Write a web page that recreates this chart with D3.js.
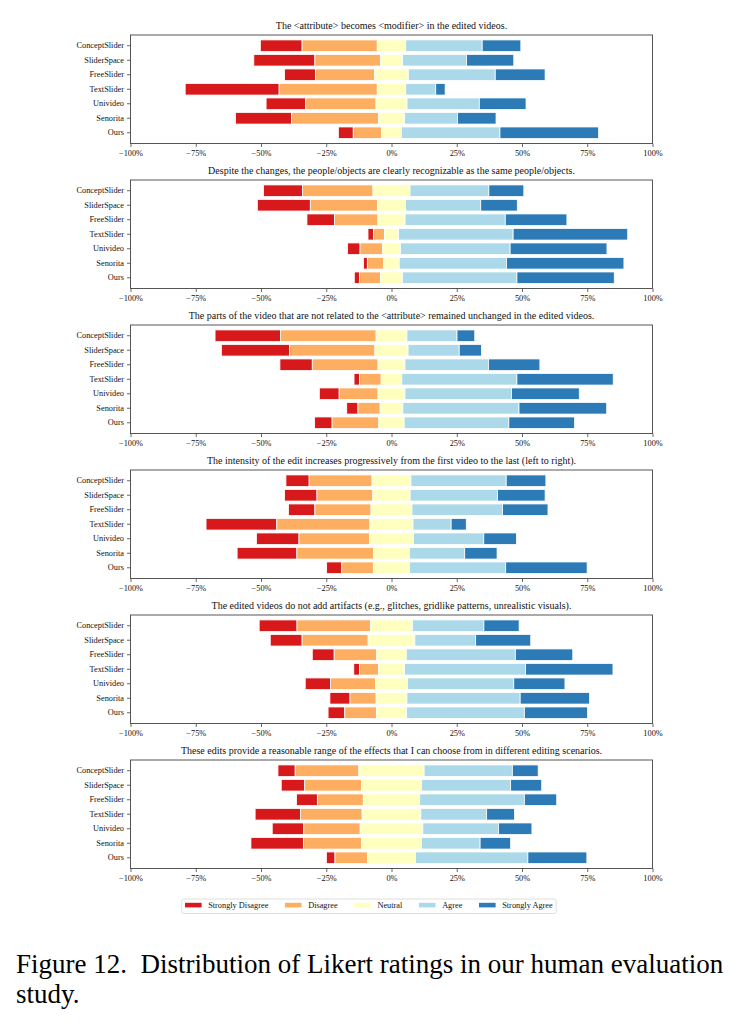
<!DOCTYPE html>
<html>
<head>
<meta charset="utf-8">
<script src="https://cdn.jsdelivr.net/npm/d3@7"></script>
<style>
    body { margin: 0; background: #fff; }
    svg { display: block; font-family: "Liberation Serif", "Times New Roman", serif; }
</style>
</head>
<body>
<div id="canva"></div>
<script>
const categories = ["ConceptSlider", "SliderSpace", "FreeSlider", "TextSlider", "Univideo", "Senorita", "Ours"];
const levels = ["Strongly Disagree", "Disagree", "Neutral", "Agree", "Strongly Agree"];
const levelColors = ["#d7191c", "#fdae61", "#ffffbf", "#abd9e9", "#2c7bb6"];
const xTicks = [-100, -75, -50, -25, 0, 25, 50, 75, 100];

const questions = [
    "The <attribute> becomes <modifier> in the edited videos.",
    "Despite the changes, the people/objects are clearly recognizable as the same people/objects.",
    "The parts of the video that are not related to the <attribute> remained unchanged in the edited videos.",
    "The intensity of the edit increases progressively from the first video to the last (left to right).",
    "The edited videos do not add artifacts (e.g., glitches, gridlike patterns, unrealistic visuals).",
    "These edits provide a reasonable range of the effects that I can choose from in different editing scenarios."
];

// percentages per method: [strongly disagree, disagree, neutral, agree, strongly agree]
const attributeBecomesModifier = [
    [16.0, 28.8, 10.9, 29.3, 14.8],
    [23.4, 25.1, 8.5, 24.5, 18.1],
    [11.8, 22.7, 12.9, 33.3, 19.1],
    [36.0, 37.6, 10.9, 11.5, 3.6],
    [15.2, 26.9, 11.9, 27.7, 17.9],
    [21.5, 33.3, 9.9, 20.3, 14.8],
    [5.7, 10.9, 7.5, 37.8, 37.8]
];
const identityRecognizable = [
    [14.9, 27.0, 14.2, 30.2, 13.4],
    [20.3, 25.7, 10.8, 28.8, 14.0],
    [10.6, 16.6, 10.4, 38.4, 23.6],
    [2.1, 4.2, 5.4, 43.9, 43.9],
    [4.8, 8.6, 6.9, 42.0, 37.1],
    [1.5, 6.3, 5.9, 41.1, 45.0],
    [2.0, 8.0, 8.5, 43.8, 37.3]
];
const unrelatedUnchanged = [
    [25.1, 36.6, 11.8, 19.2, 6.8],
    [26.1, 32.7, 12.7, 19.6, 8.5],
    [12.4, 25.2, 10.3, 32.0, 19.7],
    [2.1, 8.3, 7.9, 44.1, 36.9],
    [7.6, 14.9, 10.3, 40.8, 26.0],
    [4.3, 8.5, 8.7, 44.5, 33.6],
    [6.7, 17.9, 9.7, 40.1, 25.2]
];
const intensityProgressive = [
    [8.9, 24.1, 14.9, 36.5, 15.2],
    [12.4, 21.4, 14.3, 33.5, 18.2],
    [10.1, 21.5, 15.7, 34.7, 17.4],
    [27.1, 35.7, 16.5, 14.6, 5.8],
    [16.3, 27.0, 16.9, 26.9, 12.5],
    [22.9, 29.4, 13.7, 21.2, 12.4],
    [5.8, 12.1, 13.9, 36.8, 31.2]
];
const noArtifacts = [
    [14.5, 28.2, 16.0, 27.4, 13.5],
    [12.2, 25.3, 17.9, 23.3, 21.1],
    [8.4, 16.3, 11.3, 41.8, 22.0],
    [2.2, 7.3, 9.9, 46.4, 33.5],
    [9.7, 17.2, 12.3, 40.7, 19.6],
    [7.7, 10.0, 11.8, 43.4, 26.6],
    [6.4, 12.1, 11.6, 45.1, 24.2]
];
const effectRange = [
    [6.6, 24.4, 25.0, 33.8, 9.9],
    [9.0, 21.8, 22.9, 34.2, 11.9],
    [8.0, 17.6, 21.6, 40.1, 12.4],
    [17.4, 23.6, 22.5, 25.2, 10.7],
    [12.1, 21.6, 24.0, 29.0, 12.8],
    [20.1, 22.3, 22.9, 22.5, 11.7],
    [3.3, 12.5, 18.3, 43.1, 22.6]
];
const panels = [attributeBecomesModifier, identityRecognizable, unrelatedUnchanged,
                intensityProgressive, noArtifacts, effectRange];

const caption = ["Figure 12.  Distribution of Likert ratings in our human evaluation", "study."];

const width = 740;
const height = 1025;
const axLeft = 130.5;
const axRight = 652.5;
const axHeight = 108.5;
const firstTop = 35;
const panelStep = 145;
const fs = 8.3;

const svg = d3.select("#canva").append("svg")
    .attr("width", width)
    .attr("height", height)
    .attr("viewBox", [0, 0, width, height]);

const x = d3.scaleLinear()
    .domain([-100, 100])
    .range([axLeft, axRight]);

function stackRow(values) {
    // neutral is centred on zero
    let start = -(values[0] + values[1] + values[2] / 2);
    return values.map((v, i) => {
        const seg = { level: i, x0: start, x1: start + v };
        start += v;
        return seg;
    });
}

panels.forEach((rows, p) => {
    const top = firstTop + p * panelStep;
    const g = svg.append("g");

    const y = d3.scaleBand()
        .domain(categories)
        .range([top, top + axHeight])
        .paddingInner(0.2)
        .paddingOuter(0.34);

    g.append("text")
        .attr("x", (axLeft + axRight) / 2)
        .attr("y", top - 6)
        .attr("text-anchor", "middle")
        .attr("font-size", "10px")
        .attr("fill", "#111")
        .text(questions[p]);

    const rowG = g.selectAll("g.row")
        .data(rows)
        .join("g")
            .attr("class", "row");

    rowG.selectAll("rect")
        .data((d, i) => stackRow(d).map(s => ({ ...s, cat: categories[i] })))
        .join("rect")
            .attr("x", d => x(d.x0))
            .attr("y", d => y(d.cat))
            .attr("width", d => x(d.x1) - x(d.x0))
            .attr("height", y.bandwidth())
            .attr("fill", d => levelColors[d.level])
            .attr("stroke", "#fff")
            .attr("stroke-width", 0.8);

    // frame
    g.append("rect")
        .attr("x", axLeft)
        .attr("y", top)
        .attr("width", axRight - axLeft)
        .attr("height", axHeight)
        .attr("fill", "none")
        .attr("stroke", "#444")
        .attr("stroke-width", 0.9);

    const xAxis = g.append("g")
        .attr("transform", `translate(0, ${top + axHeight})`)
        .call(d3.axisBottom(x)
            .tickValues(xTicks)
            .tickSize(3.5)
            .tickPadding(3)
            .tickFormat(d => (d < 0 ? "\u2212" + (-d) : d) + "%"));

    const yAxis = g.append("g")
        .attr("transform", `translate(${axLeft}, 0)`)
        .call(d3.axisLeft(y).tickSize(3.5).tickPadding(3));

    [xAxis, yAxis].forEach(a => {
        a.attr("font-family", null);
        a.select(".domain").remove();
        a.selectAll("line").attr("stroke", "#444").attr("stroke-width", 0.8);
        a.selectAll("text")
            .attr("font-size", fs + "px")
            .attr("fill", "#111")
            .style("font-family", "'Liberation Serif', serif");
    });
});

// legend
const legend = svg.append("g");
const legendBox = legend.append("rect")
    .attr("y", 899)
    .attr("height", 14.5)
    .attr("rx", 2)
    .attr("fill", "#fff")
    .attr("stroke", "#d6d6d6")
    .attr("stroke-width", 0.8);

let lx = 185;
levels.forEach((name, i) => {
    legend.append("rect")
        .attr("x", lx)
        .attr("y", 902.8)
        .attr("width", 16.6)
        .attr("height", 4.6)
        .attr("fill", levelColors[i]);
    const t = legend.append("text")
        .attr("x", lx + 16.6 + 6.6)
        .attr("y", 908.2)
        .attr("font-size", fs + "px")
        .attr("fill", "#111")
        .text(name);
    lx += 16.6 + 6.6 + t.node().getComputedTextLength() + 16.6;
});
legendBox.attr("x", 181.7).attr("width", lx - 16.6 + 3.5 - 181.7);

// caption
caption.forEach((line, i) => {
    svg.append("text")
        .attr("x", 16)
        .attr("y", 973 + i * 30)
        .attr("font-size", "27px")
        .attr("fill", "#000")
        .style("white-space", "pre")
        .text(line);
});
</script>
</body>
</html>
